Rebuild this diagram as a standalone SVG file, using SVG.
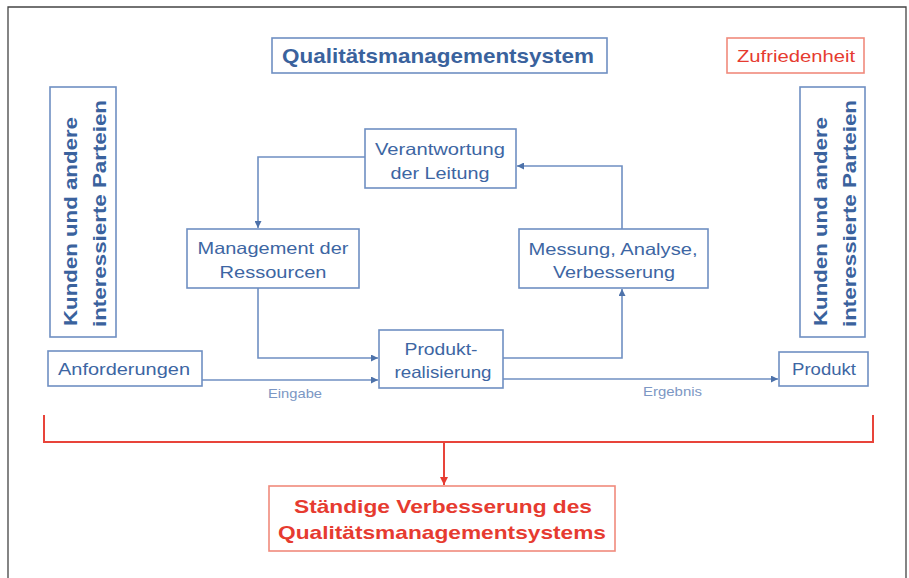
<svg xmlns="http://www.w3.org/2000/svg" width="909" height="578" viewBox="0 0 909 578">
<defs>
<marker id="ab" viewBox="0 0 10 10" refX="10" refY="5" markerWidth="7" markerHeight="7" markerUnits="userSpaceOnUse" orient="auto"><path d="M0,0 L10,5 L0,10 z" fill="#4d72aa"/></marker>
<marker id="ar" viewBox="0 0 10 10" refX="10" refY="5" markerWidth="8" markerHeight="8" markerUnits="userSpaceOnUse" orient="auto"><path d="M0,0 L10,5 L0,10 z" fill="#e63b30"/></marker>
</defs>
<style>
.box{fill:#fff;stroke:#6f8fc2;stroke-width:1.6}
.rbox{fill:#fff;stroke:#f08a7c;stroke-width:1.6}
.t{font-family:"Liberation Sans",Arial,sans-serif;font-size:16.5px;fill:#3d66a3;text-anchor:middle}
.tb{font-family:"Liberation Sans",Arial,sans-serif;font-weight:bold;fill:#3a629d}
.rt{font-family:"Liberation Sans",Arial,sans-serif;font-weight:bold;font-size:19px;fill:#e63b30;text-anchor:middle}
.sm{font-family:"Liberation Sans",Arial,sans-serif;font-size:13px;fill:#7c97c4}
.c{fill:none;stroke:#6f8fc2;stroke-width:1.6}
.rc{fill:none;stroke:#e8443a;stroke-width:2}
</style>
<rect width="909" height="578" fill="#fff"/>
<path d="M8,578 V7 H906 V578" fill="none" stroke="#444" stroke-width="1.3"/>

<g id="title">
<rect class="box" x="272" y="38" width="335" height="35"/>
<text class="tb" x="282" y="63" font-size="21" textLength="312" lengthAdjust="spacingAndGlyphs">Qualitätsmanagementsystem</text>
</g>
<g id="zufriedenheit">
<rect class="rbox" x="727" y="38" width="137" height="35"/>
<text x="737" y="62" font-family="Liberation Sans, Arial, sans-serif" font-size="17" fill="#e63b30" textLength="118" lengthAdjust="spacingAndGlyphs">Zufriedenheit</text>
</g>
<g id="kunden-links">
<rect class="box" x="50" y="87" width="66" height="250"/>
<text class="tb" font-size="19" transform="translate(77,326) rotate(-90)" textLength="209" lengthAdjust="spacingAndGlyphs">Kunden und andere</text>
<text class="tb" font-size="19" transform="translate(106,327) rotate(-90)" textLength="227" lengthAdjust="spacingAndGlyphs">interessierte Parteien</text>
</g>
<g id="kunden-rechts">
<rect class="box" x="800" y="87" width="65" height="250"/>
<text class="tb" font-size="19" transform="translate(827,326) rotate(-90)" textLength="209" lengthAdjust="spacingAndGlyphs">Kunden und andere</text>
<text class="tb" font-size="19" transform="translate(856,327) rotate(-90)" textLength="227" lengthAdjust="spacingAndGlyphs">interessierte Parteien</text>
</g>
<g id="verantwortung">
<rect class="box" x="365" y="129" width="151" height="59"/>
<text class="t" x="440" y="155" textLength="130" lengthAdjust="spacingAndGlyphs">Verantwortung</text>
<text class="t" x="440" y="179" textLength="99" lengthAdjust="spacingAndGlyphs">der Leitung</text>
</g>
<g id="management">
<rect class="box" x="187" y="229" width="172" height="59"/>
<text class="t" x="273" y="254" textLength="151" lengthAdjust="spacingAndGlyphs">Management der</text>
<text class="t" x="273" y="278" textLength="107" lengthAdjust="spacingAndGlyphs">Ressourcen</text>
</g>
<g id="messung">
<rect class="box" x="519" y="229" width="189" height="59"/>
<text class="t" x="613" y="255" textLength="169" lengthAdjust="spacingAndGlyphs">Messung, Analyse,</text>
<text class="t" x="614" y="278" textLength="122" lengthAdjust="spacingAndGlyphs">Verbesserung</text>
</g>
<g id="produktrealisierung">
<rect class="box" x="379" y="330" width="124" height="58"/>
<text class="t" x="441" y="355" textLength="73" lengthAdjust="spacingAndGlyphs">Produkt-</text>
<text class="t" x="443" y="378" textLength="97" lengthAdjust="spacingAndGlyphs">realisierung</text>
</g>
<g id="anforderungen">
<rect class="box" x="48" y="351" width="154" height="35"/>
<text class="t" x="124" y="375" textLength="132" lengthAdjust="spacingAndGlyphs">Anforderungen</text>
</g>
<g id="produkt">
<rect class="box" x="779" y="352" width="89" height="34"/>
<text class="t" x="824" y="375" textLength="64" lengthAdjust="spacingAndGlyphs">Produkt</text>
</g>
<g id="verbesserung">
<rect class="rbox" x="269" y="486" width="346" height="65"/>
<text class="rt" x="443" y="513" textLength="298" lengthAdjust="spacingAndGlyphs">Ständige Verbesserung des</text>
<text class="rt" x="442" y="539" textLength="328" lengthAdjust="spacingAndGlyphs">Qualitätsmanagementsystems</text>
</g>

<g id="connectors">
<path class="c" d="M365,157 H258 V228" marker-end="url(#ab)"/>
<path class="c" d="M258,288 V358 H378" marker-end="url(#ab)"/>
<path class="c" d="M202,380 H378" marker-end="url(#ab)"/>
<path class="c" d="M503,358 H622 V289" marker-end="url(#ab)"/>
<path class="c" d="M622,229 V166 H517" marker-end="url(#ab)"/>
<path class="c" d="M503,379 H778" marker-end="url(#ab)"/>
<text class="sm" x="268" y="398" textLength="54" lengthAdjust="spacingAndGlyphs">Eingabe</text>
<text class="sm" x="643" y="396" textLength="59" lengthAdjust="spacingAndGlyphs">Ergebnis</text>
<path class="rc" d="M44,415 V442 H873 V415"/>
<path class="rc" d="M444,442 V485" marker-end="url(#ar)"/>
</g>
</svg>
